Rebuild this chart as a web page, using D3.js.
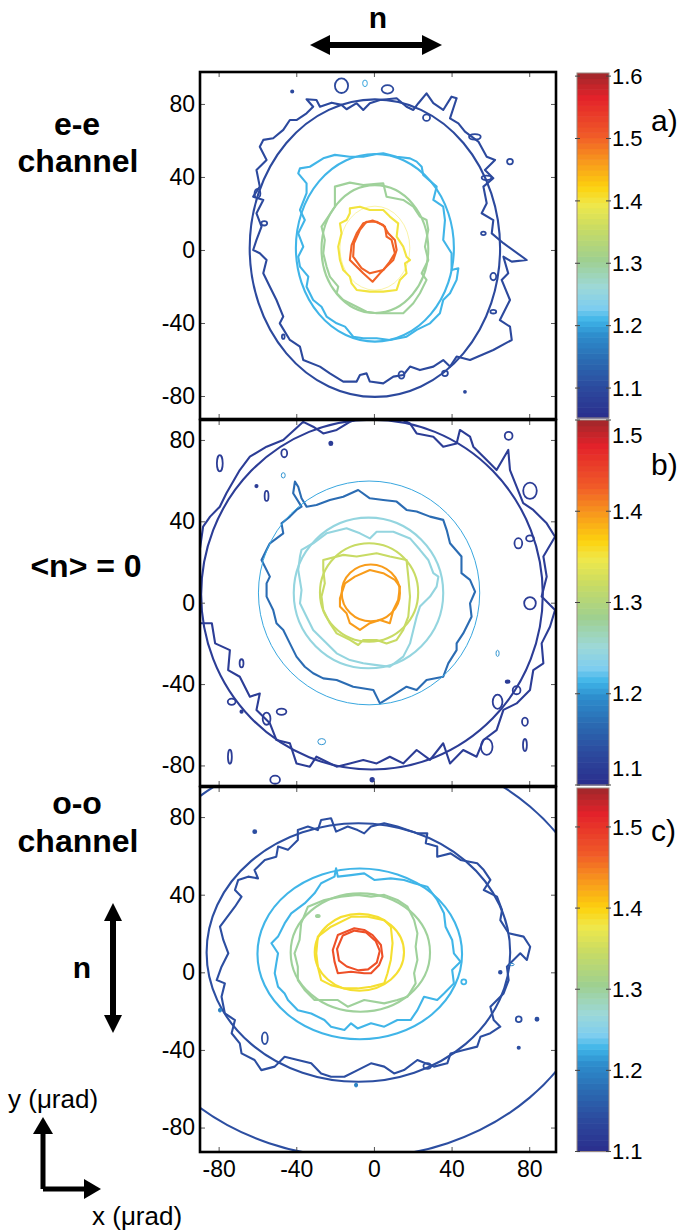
<!DOCTYPE html>
<html><head><meta charset="utf-8">
<script src="https://cdn.jsdelivr.net/npm/d3@7"></script>
<style>
body{margin:0;background:#fff}
svg{display:block;font-family:Arial,"Liberation Sans",Helvetica,sans-serif}
</style>
</head><body>
<svg id="chart" width="686" height="1230"></svg>
<script>
// ---------------- data ----------------
const xTicks = [-80, -40, 0, 40, 80];
const yTicks = [-80, -40, 0, 40, 80];
const xDomain = [-89.6, 93.8];
const yDomainA = [-92.6, 97.5];
const yDomainB = [-90.1, 89.8];
const yDomainC = [-92.6, 95.5];

const cbDomainA = [1.052, 1.605];
const cbDomainB = [1.1, 1.5];
const cbDomainC = [1.1, 1.548];
const cbTicksA = [1.1, 1.2, 1.3, 1.4, 1.5, 1.6];
const cbTicksB = [1.1, 1.2, 1.3, 1.4, 1.5];
const cbTicksC = [1.1, 1.2, 1.3, 1.4, 1.5];
const panelLabels = ["a)", "b)", "c)"];

const cmapPos = [0, 0.09, 0.17, 0.24, 0.285, 0.32, 0.38, 0.46, 0.55, 0.62, 0.67, 0.75, 0.82, 0.93, 1];
const cmapColors = ["#2b2d8c","#2c4a9e","#2b6cb3","#2d8ccc","#3fb5e8","#7dcdef","#9dd8d8","#9fd08f","#c8db64","#f0e84a","#fdd20e","#f7941d","#f05a28","#e3222a","#a0282b"];

// fitted ellipses: [level, cx, cy, rx, ry]
const ellipsesA = [[1.1,0.5,1,64.5,81.5],[1.21,0.5,1.2,40.7,51.4],[1.3,0.5,0.5,27.5,35],[1.4,0.5,1,18,23]];
const ellipsesB = [[1.12,-1,4,88,86],[1.208,-2.5,4.8,57,55],[1.245,-2.8,4.8,38.5,37],[1.32,-2.5,5,25.3,24.2],[1.396,-1.6,4.8,15,14]];
const ellipsesC = [[1.145,-8,10.5,125,106],[1.145,-8,10.2,78.2,66.6],[1.228,-7.3,9.5,52.7,44],[1.30,-7,10.2,35.9,30.5],[1.387,-7.5,10.3,23,19.8]];

// measured contour lines [x, y] (µrad)
const contA_blue = [[-34.7,82.6],[-29.6,82.2],[-27.8,78.5],[-21.8,80.7],[-16.7,79.5],[-14.1,77.1],[-8.9,80.4],[-5.5,76.7],[-2.1,80.4],[3.1,82.2],[11.7,83.1],[16.8,78.5],[20.3,76.7],[22.9,80.4],[27.1,85.8],[30.6,80.4],[35.7,76.7],[40,84],[42.6,83.1],[39.2,72.1],[43.5,69.4],[46.9,64.8],[53.8,59.4],[58.1,51.1],[62.4,49.3],[57.2,43.8],[61.5,39.3],[56.4,34.7],[58.1,25.6],[55.5,20.1],[61.5,16.4],[60.7,9.1],[66.7,3.7],[78.7,-5.5],[71,-6.4],[66.7,-3.7],[69.2,-12.8],[65.8,-16.4],[70.1,-27.4],[64.9,-38.4],[70.1,-42],[71,-49.3],[61.5,-54.8],[49.5,-60.3],[42.6,-58.4],[39.2,-63.9],[35.7,-60.3],[30.6,-63.9],[23.7,-65.8],[18.6,-63.9],[15.1,-68.5],[10,-69.4],[4.8,-73.1],[-2.1,-72.1],[-3.8,-67.6],[-7.2,-68.5],[-8.9,-72.1],[-15.8,-72.1],[-22.7,-67.6],[-27.8,-63.9],[-36.4,-60.3],[-38.1,-53],[-43.3,-49.3],[-48.5,-40.2],[-46.7,-36.5],[-50.2,-27.4],[-53.6,-20.1],[-57,-12.8],[-55.3,-5.5],[-58.8,-1.8],[-62.2,0],[-60.5,5.5],[-57.9,12.8],[-60.5,20.1],[-57,27.4],[-62.2,29.2],[-58.8,34.7],[-60.5,43.8],[-55.3,49.3],[-58.8,56.6],[-57,60.3],[-51.9,61.2],[-46.7,65.8],[-43.3,71.2],[-39.9,71.2],[-34.7,74.9],[-31.3,78.5]];
const contA_cyan = [[-26.1,50.2],[-20.1,52.1],[-12.4,51.1],[-5.5,51.1],[1.4,52.6],[4.8,53],[11.7,51.1],[18.6,50.2],[22,48.4],[24.6,45.6],[25.4,41.1],[32.3,34.7],[30.6,27.4],[35.7,23.7],[36.6,16.4],[35.7,5.5],[40,-1.8],[40,-11],[43.5,-10],[42.6,-16.4],[39.2,-23.7],[35.7,-27.4],[34,-34.7],[28.9,-40.2],[22,-43.8],[16.8,-47.5],[8.2,-49.3],[1.4,-48.4],[-5.5,-48.4],[-10.7,-47.5],[-14.9,-42],[-19.2,-40.2],[-24.4,-36.5],[-27,-31.1],[-31.3,-27.4],[-34.7,-20.1],[-33.8,-14.6],[-38.1,-9.1],[-39,-3.7],[-36.4,1.8],[-39,9.1],[-35.6,16.4],[-38.1,21.9],[-34.7,31.1],[-34.7,36.5],[-39,42],[-38.1,44.7],[-33,45.6]];
const contA_green = [[-20.1,34.7],[-12.4,36.9],[-5.5,35.6],[1.4,36.2],[4.8,36.5],[6.5,29.2],[15.1,27.4],[20.3,23.7],[23.7,18.3],[27.1,16.4],[28,11],[26.3,1.8],[28,-5.5],[24.6,-12.8],[27.1,-16.4],[23.7,-23.7],[20.3,-29.2],[15.1,-34.7],[8.2,-34.7],[1.4,-34.7],[-3.8,-33.8],[-8.9,-31.1],[-15.8,-27.4],[-19.2,-23.7],[-18.4,-20.1],[-22.7,-14.6],[-24.4,-9.1],[-26.1,-1.8],[-25.3,5.5],[-27,12.8],[-23.5,18.3],[-20.1,23.7],[-20.1,31.1]];
const contA_yellow = [[-12.4,22.8],[-7.2,23.7],[-2.1,21.9],[4.8,21.9],[8.2,18.3],[12.5,14.6],[11.7,7.3],[15.1,1.8],[16.8,-3.7],[18.6,-5.5],[16,-7.3],[16.8,-12.8],[13.4,-16.4],[11.7,-21.9],[4.8,-22.8],[-2.1,-22.8],[-8.9,-21.9],[-11.5,-18.3],[-12.4,-14.6],[-15.8,-11],[-17.5,-5.5],[-18.4,1.8],[-16.7,9.1],[-17.5,14.6],[-14.1,16.4],[-12.4,20.1]];
const contA_red1 = [[-5.5,14.6],[-0.7,16.1],[4.8,13.7],[7.4,9.1],[10.8,5.5],[11.7,0],[10,-5.5],[6.5,-9.1],[3.1,-12.8],[-0.7,-17.4],[-5.5,-12.8],[-9.8,-8.2],[-12.4,-5.5],[-11.5,2.7],[-8.9,9.1]];
const contA_red2 = [[-3.8,15.5],[1.4,15.5],[5.7,12.8],[6.5,7.3],[9.1,5.5],[10.8,-1.8],[8.2,-6.4],[4.8,-11],[-2.1,-12.8],[-6.4,-10],[-10.7,-3.7],[-10.3,3.7],[-7.2,11]];

const contB_outer = [[-89.7,26],[-88,37.4],[-84.4,42.3],[-79.4,47.2],[-76,53.8],[-69.1,65.2],[-63.9,71.8],[-55.3,76.7],[-46.7,80],[-36.4,88.9],[-31.3,86.5],[-26.1,83.2],[-19.2,84.9],[-12.4,88.9],[3.1,95],[18.6,88.1],[22,83.2],[30.6,81.6],[35.7,76.7],[42.6,78.3],[44.3,84.9],[49.5,81.6],[51.2,76.7],[58.1,70.1],[63.2,65.2],[69.2,75.1],[70.1,65.2],[73.5,57],[76.9,48.9],[82.1,45.6],[89,39],[93.3,32.4],[87.3,22.7],[89,12.8],[86.4,3],[93.3,-3.6],[90.7,-11.8],[86.4,-20],[87.3,-29.8],[82.1,-33.1],[80.4,-42.9],[73.5,-49.5],[66.7,-52.7],[63.2,-62.6],[56.4,-67.5],[52.9,-75.7],[46,-72.4],[39.2,-79],[35.7,-69.1],[28.9,-77.3],[22,-72.4],[15.1,-79],[8.2,-75.7],[1.4,-79],[-5.5,-77.3],[-12.4,-79],[-19.2,-80.6],[-29.6,-75.7],[-33,-80.6],[-39.9,-79],[-43.3,-69.1],[-50.2,-67.5],[-53.6,-59.3],[-60.5,-52.7],[-58.8,-44.6],[-63.9,-46.2],[-69.1,-36.4],[-75.1,-33.1],[-74.2,-23.3],[-81.8,-20],[-83.5,-10.1],[-89.7,-10.1],[-95,3],[-95,20]];
const contB_blue = [[-34.7,47.2],[-29.6,48],[-22.7,50.5],[-15.8,52.1],[-8.1,55.4],[-2.1,51.3],[4.8,50.5],[11.7,49.7],[16.8,45.6],[22,44.8],[28.9,42.3],[35.7,40.7],[37.5,35.7],[39.2,29.2],[45.1,22.7],[45.1,14.5],[49.5,11.2],[52.1,5.4],[49.5,-0.3],[50.3,-6.9],[46,-15.1],[42.6,-20],[42.6,-23.3],[38.3,-29.8],[35.7,-36.4],[27.1,-38],[22,-42.9],[16.8,-41.3],[10,-45.4],[3.1,-49.5],[-0.3,-42.9],[-10.7,-41.3],[-19.2,-38],[-26.1,-37.2],[-31.3,-34.7],[-35.6,-31.5],[-39.9,-26.5],[-43.3,-20],[-46.7,-13.4],[-50.2,-10.1],[-51.9,-3.6],[-55.3,3],[-55.3,9.5],[-53.6,12.8],[-57.9,21],[-55.3,26],[-53.6,29.2],[-46.7,34.1],[-47.6,39],[-43.3,42.3],[-39.9,45.6],[-37.3,47.2],[-41.6,53.8],[-40.7,59.5],[-39,57],[-37.3,51.3]];
const contB_cyan = [[-37.3,26],[-31.3,29.2],[-24.4,34.1],[-14.1,36.6],[-7.2,34.1],[-2.1,31.6],[1.4,34.9],[10,34.9],[18.6,31.6],[23.7,26],[28,21],[30.6,14.5],[33.2,12.8],[32.3,7.9],[28.9,3],[23.7,-1.9],[22,-6.9],[20.3,-13.4],[18.6,-20],[15.1,-26.5],[8.2,-31.5],[1.4,-30.7],[-5.5,-29.8],[-12.4,-28.2],[-19.2,-24.9],[-26.1,-18.3],[-31.3,-13.4],[-34.7,-6.9],[-38.1,-0.3],[-37.3,6.2],[-39,16.1],[-38.1,22.7]];
const contB_yg = [[-26.1,21],[-15.8,23.5],[-8.9,22.7],[1.4,24.3],[8.2,22.7],[16.8,21],[17.7,12.8],[18.6,3],[17.7,-6.9],[15.1,-13.4],[11.7,-18.3],[6.5,-20],[1.4,-18.3],[-5.5,-18.3],[-8.1,-20.8],[-12.4,-18.3],[-19.2,-15.1],[-22.7,-10.1],[-26.1,-3.6],[-27,3],[-25.3,9.5],[-26.1,16.1]];
const contB_orange = [[-17.5,2.2],[-14.9,9.5],[-9.8,12.8],[-2.1,16.1],[4.8,14.5],[10.8,11.2],[13.4,7.9],[12.5,1.4],[10,-3.6],[8.2,-10.1],[3.1,-8.5],[-2.1,-10.1],[-7.2,-13.4],[-12.4,-10.1],[-14.1,-5.2],[-17.5,-1.9]];

const contC_blue = [[-39.2,73.3],[-34,75.1],[-28.9,73.3],[-27.2,78.5],[-22.1,79.4],[-19.5,72.5],[-13.5,75.1],[-8.4,73.3],[-5,71.6],[-1.5,75.1],[5.3,76.8],[12.1,75.1],[17.3,73.3],[22.4,71.6],[27.5,71.6],[26.7,66.5],[32.6,64.8],[32.6,59.6],[39.5,61.3],[44.6,57.9],[53.2,56.2],[56.6,52.7],[60,47.6],[56.6,42.4],[63.4,39],[66,32.1],[65.1,26.9],[69.4,20.1],[77.1,18.4],[80.5,13.2],[78.8,6.4],[75.4,9.8],[71.9,6.4],[68.5,2.9],[69.4,-4],[66.8,-10.9],[60,-17.7],[61.7,-24.6],[65.1,-28],[60,-31.4],[54.9,-33.2],[53.2,-38.3],[46.3,-40],[39.5,-41.8],[37.8,-46.9],[30.9,-48.6],[22.4,-45.2],[15.5,-50.4],[10.4,-52.1],[5.3,-48.6],[-1.5,-46.9],[-8.4,-50.4],[-15.2,-53.8],[-22.1,-53.8],[-27.2,-52.1],[-32.3,-46.9],[-39.2,-45.2],[-46,-43.5],[-51.1,-48.6],[-58,-50.4],[-61.5,-45.2],[-68.2,-41.8],[-69.1,-36.6],[-73.3,-31.4],[-71.6,-24.6],[-76.8,-21.2],[-78.5,-12.6],[-76.8,-5.7],[-81,-4],[-78.5,2.9],[-75,9.8],[-77.6,16.7],[-79.3,23.5],[-76.8,26.9],[-71.6,33.8],[-68.2,39],[-71.6,42.4],[-69.9,47.6],[-64.8,49.3],[-59.7,48.4],[-61.5,52.7],[-56.2,57.9],[-50.3,59.6],[-49.4,64.8],[-44.3,63.1],[-39.2,68.2]];
const contC_cyan = [[-19.5,53.6],[-18.6,49.3],[-11.8,50.1],[-5,51],[0.2,47.6],[8.7,48.4],[15.5,47.6],[20.7,45.9],[27.5,44.1],[32.6,37.3],[36.1,30.4],[36.9,23.5],[40.3,16.7],[41.2,9.8],[44.6,5.5],[40.3,1.2],[41.2,-5.7],[36.1,-10.9],[32.6,-14.3],[25.8,-12.6],[22.4,-19.5],[18.9,-24.6],[12.1,-24.6],[5.3,-28],[-1.5,-26.3],[-8.4,-28.9],[-11.8,-26.3],[-15.2,-29.7],[-22.1,-28],[-25.5,-24.6],[-32.3,-21.2],[-39.2,-19.5],[-44.3,-14.3],[-46,-10.9],[-49.4,-7.4],[-51.1,-0.5],[-50.3,4.6],[-49.4,9.8],[-52.8,15],[-49.4,18.4],[-46,25.2],[-42.6,30.4],[-35.7,35.5],[-30.6,40.7],[-27.2,45.9],[-20.3,49.3]];
const contC_green = [[-34,33.8],[-25.5,37.3],[-17,39],[-8.4,39.9],[-1.5,39],[5.3,39.9],[12.1,37.3],[17.3,33.8],[20.7,26.9],[22.4,20.1],[21.5,13.2],[22.4,6.4],[20.7,-0.5],[21.5,-5.7],[17.3,-12.6],[12.1,-14.3],[5.3,-16],[-5,-14.3],[-13.5,-17.7],[-18.6,-14.3],[-25.5,-14.3],[-30.6,-14.3],[-35.7,-9.1],[-39.2,-4],[-39.2,2.9],[-40.9,9.8],[-38.3,16.7],[-37.5,25.2]];
const contC_yellow = [[-28.9,18.4],[-22.1,23.5],[-11.8,28.6],[-3.2,28.6],[5.3,26.9],[8.7,23.5],[9.6,15],[8.7,6.4],[7,-0.5],[5.3,-5.7],[-1.5,-7.4],[-8.4,-8.3],[-15.2,-8.3],[-22.1,-6.6],[-27.2,-4],[-28.9,2.9],[-29.7,9.8]];
const contC_red1 = [[-21.2,11.5],[-18.6,19.2],[-10.1,22.7],[-5,21.8],[-0.7,19.2],[3.6,14.1],[4.4,8.1],[2.7,3.8],[-1.5,-0.5],[-5,-0.5],[-11.8,0.3],[-18.6,-0.5],[-20.3,5.5]];
const contC_red2 = [[-19,12],[-16,19],[-10,21.5],[-4,20.5],[1,16],[3,11],[1.5,5],[-3,1.5],[-8,1],[-14,3],[-18,6]];

// small isolated loops: [level, cx, cy, rx, ry]
const islandsA = [[1.1,-16.7,90,3.4,4],[1.1,7,88,3,2.3],[1.2,-4.6,91.3,1.2,1.8],[1.1,-42.1,86.8,0.6,0.6],[1.1,27.1,72.5,1.8,1.8],[1.1,52,62,3,1.5],[1.1,58,39.5,2.5,1.2],[1.1,70.1,48.4,1.5,1.5],[1.1,56.4,9.1,1.2,1],[1.1,61.5,-14.6,1.5,2],[1.1,61.5,-33.8,1.5,1],[1.1,36.6,-67.6,1.5,1.5],[1.1,14.2,-68.5,1.5,2],[1.1,46.9,-77.7,0.5,0.5],[1.1,-46.7,-47.5,0.7,1.2],[1.1,-56.5,14.6,1.5,1.2],[1.1,-60,31,1.5,2.5]];
const islandsB = [[1.12,-79.4,68.5,1.5,4],[1.12,-46.2,73.5,1.5,2],[1.12,-22.2,78.3,0.8,0.8],[1.12,-55.3,52.5,1,2.5],[1.12,-60.5,57.3,0.6,0.6],[1.2,-46.7,62.6,1,1.3],[1.12,69.4,82,2,2],[1.12,80.4,55,3.5,4],[1.12,74.4,29.2,2,2.5],[1.12,80.4,31.6,2,1.5],[1.12,80.4,-0.3,3,3],[1.2,63.7,-24.9,0.8,1.5],[1.12,68.9,-38.8,1,0.6],[1.12,63.7,-48.7,2.5,3.5],[1.12,73.5,-43,2,2],[1.12,77.8,-58.5,1.5,2],[1.12,58.1,-70.8,3,4],[1.12,77.8,-70,1,3],[1.12,-68.2,-29.8,1,2],[1.12,-73.3,-48.7,2,1.5],[1.12,-68.2,-53.6,0.6,0.6],[1.12,-55.3,-57,2,3],[1.12,-47.6,-53.6,2.5,1.5],[1.2,-26.9,-68.3,2,1.5],[1.12,-74.2,-75.7,1,3.5],[1.12,-50.9,-87,2.5,2],[1.12,-0.9,-87,0.9,0.9]];
const islandsC = [[1.145,-61.4,72.5,0.8,0.8],[1.3,-28.9,29,1,0.6],[1.228,46.3,-4.9,1.3,1.3],[1.145,65.1,0,0.7,0.7],[1.145,74.6,-24.2,1.5,1.5],[1.145,84,-24.2,0.8,0.8],[1.145,74.6,-38.9,0.6,0.6],[1.145,-56.2,-34,1.5,3],[1.145,27.5,-48.3,2,1.5],[1.2,-9.2,-58.1,0.8,1],[1.2,-79.3,-19.5,0.8,1],[1.2,71,4,1.2,0.6]];

// ---------------- drawing ----------------
const svg = d3.select("#chart");
const cmap = d3.scaleLinear().domain(cmapPos).range(cmapColors).interpolate(d3.interpolateRgb).clamp(true);

const panels = [
  {id:"A", top:72, bottom:419, yDomain:yDomainA, ell:ellipsesA, isl:islandsA, cbTop:73, cbBottom:418, cbDomain:cbDomainA, cbTicks:cbTicksA, labelY:131,
   cont:[[1.1,contA_blue],[1.21,contA_cyan],[1.3,contA_green],[1.4,contA_yellow],[1.5,contA_red1],[1.5,contA_red2]]},
  {id:"B", top:420, bottom:786, yDomain:yDomainB, ell:ellipsesB, isl:islandsB, cbTop:420, cbBottom:785, cbDomain:cbDomainB, cbTicks:cbTicksB, labelY:475,
   cont:[[1.12,contB_outer],[1.168,contB_blue],[1.245,contB_cyan],[1.32,contB_yg],[1.396,contB_orange]]},
  {id:"C", top:787, bottom:1152, yDomain:yDomainC, ell:ellipsesC, isl:islandsC, cbTop:788, cbBottom:1151.5, cbDomain:cbDomainC, cbTicks:cbTicksC, labelY:841,
   cont:[[1.145,contC_blue],[1.228,contC_cyan],[1.30,contC_green],[1.387,contC_yellow],[1.476,contC_red1],[1.476,contC_red2]]}
];
// line-style exceptions (index into ellipse arrays)
const ellStyle = {A:{3:{w:1,o:0.45}}, B:{1:{w:1,o:1}}, C:{}};
const fmtInt = d => String(d);

const defs = svg.append("defs");
const x = d3.scaleLinear().domain(xDomain).range([200, 556]);

panels.forEach((p, i) => {
  const y = d3.scaleLinear().domain(p.yDomain).range([p.bottom, p.top]);
  const lvl = d3.scaleLinear().domain(p.cbDomain).range([0, 1]);
  const col = v => cmap(lvl(v));

  defs.append("clipPath").attr("id", "clip" + p.id).append("rect")
    .attr("x", 200).attr("y", p.top).attr("width", 356).attr("height", p.bottom - p.top);
  const g = svg.append("g");
  const plot = g.append("g").attr("clip-path", `url(#clip${p.id})`);

  const line = d3.line().x(d => x(d[0])).y(d => y(d[1])).curve(d3.curveLinearClosed);

  p.cont.forEach(([lv, pts]) => {
    plot.append("path").attr("d", line(pts)).attr("fill", "none")
      .attr("stroke", col(lv)).attr("stroke-width", 2.1).attr("stroke-linejoin", "round");
  });
  p.ell.forEach((e, k) => {
    const st = ellStyle[p.id][k] || {w:2.1, o:1};
    plot.append("ellipse")
      .attr("cx", x(e[1])).attr("cy", y(e[2]))
      .attr("rx", x(e[1] + e[3]) - x(e[1])).attr("ry", y(e[2]) - y(e[2] + e[4]))
      .attr("fill", "none").attr("stroke", col(e[0])).attr("stroke-width", st.w).attr("opacity", st.o);
  });
  p.isl.forEach(e => {
    const rx = x(e[1] + e[3]) - x(e[1]), ry = y(e[2]) - y(e[2] + e[4]);
    const small = rx < 2 && ry < 2;
    plot.append("ellipse").attr("cx", x(e[1])).attr("cy", y(e[2]))
      .attr("rx", Math.max(rx, 1)).attr("ry", Math.max(ry, 1))
      .attr("fill", small ? col(e[0]) : "none").attr("stroke", col(e[0]))
      .attr("stroke-width", e[0] > 1.18 && e[0] < 1.21 ? 1 : 1.8);
  });

  // axes (inward ticks)
  const axL = g.append("g").attr("transform", `translate(200,0)`)
    .call(d3.axisLeft(y).tickValues(yTicks).tickSize(-5).tickPadding(5).tickFormat(fmtInt));
  const axR = g.append("g").attr("transform", `translate(556,0)`)
    .call(d3.axisRight(y).tickValues(yTicks).tickSize(-5).tickFormat(""));
  const axT = g.append("g").attr("transform", `translate(0,${p.top})`)
    .call(d3.axisTop(x).tickValues(xTicks).tickSize(-5).tickFormat(""));
  const axB = g.append("g").attr("transform", `translate(0,${p.bottom})`)
    .call(d3.axisBottom(x).tickValues(xTicks).tickSize(-5).tickPadding(9)
      .tickFormat(i === 2 ? fmtInt : ""));
  [axL, axR, axT, axB].forEach(a => {
    a.select(".domain").remove();
    a.selectAll(".tick line").attr("stroke", "#555").attr("stroke-width", 1);
    a.selectAll("text").attr("font-size", 23).attr("fill", "#000")
      .attr("font-family", "Arial, 'Liberation Sans', sans-serif");
  });

  // frame
  g.append("rect").attr("x", 200).attr("y", p.top).attr("width", 356).attr("height", p.bottom - p.top)
    .attr("fill", "none").attr("stroke", "#000").attr("stroke-width", 2.6);

  // colorbar
  const cb = d3.scaleLinear().domain(p.cbDomain).range([p.cbBottom, p.cbTop]);
  const nb = 64;
  const bands = d3.range(nb).map(k => p.cbDomain[0] + (p.cbDomain[1] - p.cbDomain[0]) * k / nb);
  const step = (p.cbDomain[1] - p.cbDomain[0]) / nb;
  const cg = svg.append("g");
  cg.selectAll("rect.band").data(bands).join("rect").attr("class", "band")
    .attr("x", 577).attr("width", 32)
    .attr("y", d => cb(d + step)).attr("height", d => cb(d) - cb(d + step) + 0.6)
    .attr("fill", d => col(d + step / 2));
  cg.append("rect").attr("x", 577).attr("y", p.cbTop).attr("width", 32).attr("height", p.cbBottom - p.cbTop)
    .attr("fill", "none").attr("stroke", "#9a8a82").attr("stroke-width", 1);
  p.cbTicks.forEach(t => {
    const ty = cb(t);
    cg.append("line").attr("x1", 575).attr("x2", 580).attr("y1", ty).attr("y2", ty).attr("stroke", "#444").attr("stroke-width", 1);
    cg.append("line").attr("x1", 606).attr("x2", 611).attr("y1", ty).attr("y2", ty).attr("stroke", "#444").attr("stroke-width", 1);
    let ly = ty;
    if (i > 0) ly = Math.max(ly, p.cbTop + 15);
    if (i < 2) ly = Math.min(ly, p.cbBottom - 17);
    cg.append("text").attr("x", 612).attr("y", ly).attr("dy", "0.35em")
      .attr("font-size", 22).text(d3.format(".1f")(t));
  });
  svg.append("text").attr("x", 651).attr("y", p.labelY).attr("font-size", 30).text(panelLabels[i]);
});

// ------------- annotations -------------
function arrow(x1, y1, x2, y2, head, half, w) {
  const ang = Math.atan2(y2 - y1, x2 - x1), c = Math.cos(ang), s = Math.sin(ang);
  const bx = x2 - head * c, by = y2 - head * s;
  svg.append("line").attr("x1", x1).attr("y1", y1).attr("x2", bx + c).attr("y2", by + s)
    .attr("stroke", "#000").attr("stroke-width", w);
  svg.append("path").attr("d", `M${x2},${y2}L${bx - half * s},${by + half * c}L${bx + half * s},${by - half * c}Z`).attr("fill", "#000");
}
// top n arrow (double)
arrow(376, 45, 442, 45, 20, 10, 6);
arrow(376, 45, 310, 45, 20, 10, 6);
svg.append("text").attr("x", 378).attr("y", 28).attr("text-anchor", "middle")
  .attr("font-size", 30).attr("font-weight", "bold").text("n");
// vertical n arrow
arrow(113, 968, 113, 903, 18, 9, 6);
arrow(113, 968, 113, 1033, 18, 9, 6);
svg.append("text").attr("x", 82).attr("y", 978).attr("text-anchor", "middle")
  .attr("font-size", 30).attr("font-weight", "bold").text("n");

const bold = (t, xx, yy) => svg.append("text").attr("x", xx).attr("y", yy).attr("text-anchor", "middle")
  .attr("font-size", 32).attr("font-weight", "bold").text(t);
bold("e-e", 77, 135);
bold("channel", 78, 172);
bold("<n> = 0", 86, 577);
bold("o-o", 77, 814);
bold("channel", 78, 852);

// axis icon
arrow(43, 1189, 43, 1117, 17, 10, 5);
arrow(43, 1189, 101, 1189, 17, 10, 5);
svg.append("text").attr("x", 8).attr("y", 1108).attr("font-size", 26).text("y (μrad)");
svg.append("text").attr("x", 92).attr("y", 1225).attr("font-size", 26).text("x (μrad)");
</script>
</body></html>
